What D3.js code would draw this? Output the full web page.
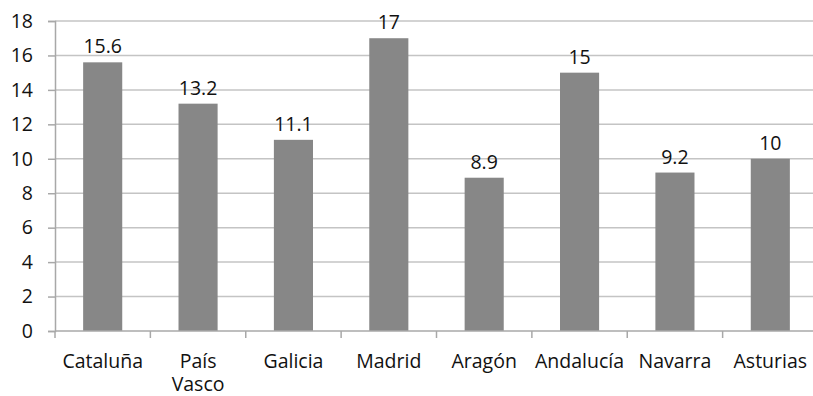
<!DOCTYPE html>
<html>
<head>
<meta charset="utf-8">
<script src="https://cdn.jsdelivr.net/npm/d3@7"></script>
<style>
  html, body { margin: 0; padding: 0; background: #fff; }
  svg { display: block; }
  text { font-family: "Open Sans", Lato, sans-serif; fill: #111; }
</style>
</head>
<body>
<svg id="chart" width="813" height="396"></svg>
<script>
// Regions and their values
const regions = ["Cataluña", "País Vasco", "Galicia", "Madrid", "Aragón", "Andalucía", "Navarra", "Asturias"];
const values = [15.6, 13.2, 11.1, 17, 8.9, 15, 9.2, 10];
const yTicks = [0, 2, 4, 6, 8, 10, 12, 14, 16, 18];

const svg = d3.select("#chart");
const plot = { left: 55, right: 818, top: 21, bottom: 331 };
const fontSize = 19.5;

const x = d3.scaleBand().domain(regions).range([plot.left, plot.right]).paddingInner(0.59).paddingOuter(0.295);
const band = d3.scaleBand().domain(regions).range([plot.left, plot.right]);
const y = d3.scaleLinear().domain([0, 18]).range([plot.bottom, plot.top]);

// horizontal gridlines
svg.append("g").selectAll("line").data(yTicks.filter(d => d > 0)).join("line")
  .attr("x1", plot.left).attr("x2", plot.right)
  .attr("y1", d => y(d)).attr("y2", d => y(d))
  .attr("stroke", "#c4c4c4").attr("stroke-width", 1.5);

// bars
svg.append("g").selectAll("rect").data(regions).join("rect")
  .attr("x", (d) => x(d))
  .attr("width", x.bandwidth())
  .attr("y", (d, i) => y(values[i]))
  .attr("height", (d, i) => y(0) - y(values[i]))
  .attr("fill", "#878787");

// value labels
svg.append("g").selectAll("text").data(regions).join("text")
  .attr("x", d => x(d) + x.bandwidth() / 2)
  .attr("y", (d, i) => y(values[i]) - 9)
  .attr("text-anchor", "middle")
  .attr("font-size", fontSize)
  .text((d, i) => String(values[i]));

// y axis
const yAxis = svg.append("g").attr("transform", `translate(${plot.left},0)`)
  .call(d3.axisLeft(y).tickValues(yTicks).tickSize(7).tickPadding(15).tickFormat(d3.format("d")));
yAxis.select(".domain").attr("stroke", "#a8a8a8").attr("stroke-width", 1.5);
yAxis.selectAll(".tick line").attr("stroke", "#a8a8a8").attr("stroke-width", 1.5);
yAxis.selectAll(".tick text").attr("font-size", fontSize).attr("font-family", "'Open Sans', Lato, sans-serif").attr("fill", "#111");

// x axis baseline and category separators
const xAxis = svg.append("g");
xAxis.append("line").attr("x1", plot.left).attr("x2", plot.right).attr("y1", plot.bottom).attr("y2", plot.bottom)
  .attr("stroke", "#a8a8a8").attr("stroke-width", 1.5);
xAxis.selectAll("line.sep").data(regions).join("line").attr("class", "sep")
  .attr("x1", d => band(d)).attr("x2", d => band(d))
  .attr("y1", plot.bottom).attr("y2", plot.bottom + 7)
  .attr("stroke", "#a8a8a8").attr("stroke-width", 1.5);

// category labels, wrapped on spaces
const labels = xAxis.selectAll("text").data(regions).join("text")
  .attr("x", d => band(d) + band.bandwidth() / 2)
  .attr("y", 368)
  .attr("text-anchor", "middle")
  .attr("font-size", fontSize);
labels.each(function(d) {
  const words = d.split(" ");
  const t = d3.select(this);
  words.forEach((w, i) => {
    t.append("tspan").attr("x", band(d) + band.bandwidth() / 2).attr("dy", i === 0 ? 0 : 23).text(w);
  });
});
</script>
</body>
</html>
